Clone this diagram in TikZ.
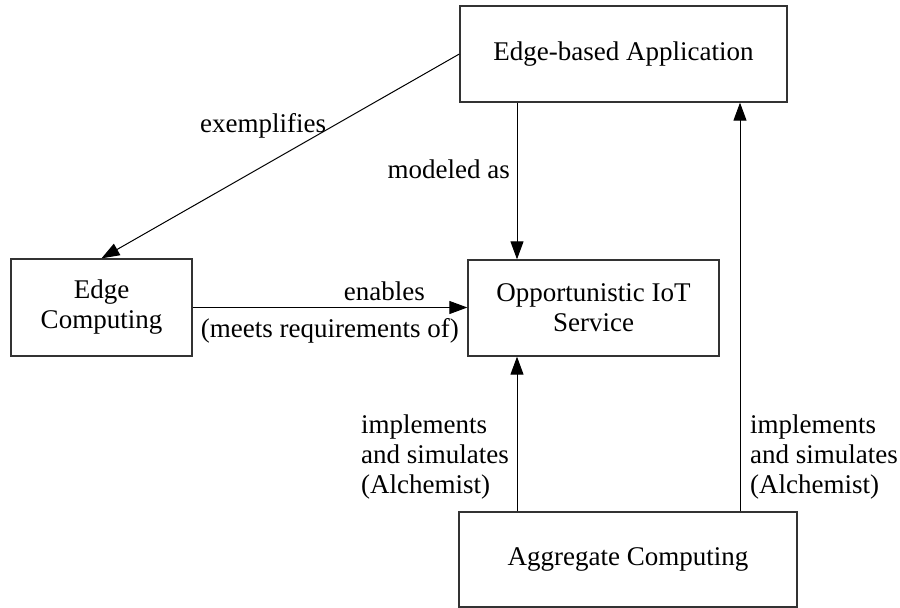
\documentclass[tikz,border=0pt]{standalone}
\usepackage{fontspec}
\setmainfont{Liberation Serif}
\usetikzlibrary{arrows.meta}
\begin{document}
\begin{tikzpicture}[x=1pt,y=-1pt,
  every node/.style={font=\fontsize{27}{30}\selectfont},
  box/.style={draw=black!80,line width=1.3pt,rectangle,inner sep=0pt,align=center},
  lbl/.style={inner sep=0pt},
  arr/.style={draw=black,line width=1pt,-{Triangle[length=18pt,width=13pt]}}]
\useasboundingbox (0,0) rectangle (900,608);
\node[box,minimum width=327pt,minimum height=96pt] (eba) at (623.5,54) {Edge-based Application};
\node[box,minimum width=181pt,minimum height=97pt] (ec) at (101.5,307.5) {Edge\\Computing};
\node[box,minimum width=251pt,minimum height=96pt] (opp) at (593.5,308) {Opportunistic IoT\\Service};
\node[box,minimum width=338pt,minimum height=95pt] (agg) at (628,559.5) {Aggregate Computing};
\coordinate (xa) at (517,0);
\coordinate (xb) at (740,0);
\draw[arr] (eba.west) -- (ec.north);
\draw[arr] (eba.south -| xa) -- (opp.north -| xa);
\draw[arr] (ec.east) -- (opp.west |- ec.east);
\draw[arr] (agg.north -| xa) -- (opp.south -| xa);
\draw[arr] (agg.north -| xb) -- (eba.south -| xb);
\node[lbl,anchor=base west] (l1) at (200,132) {exemplifies};
\node[lbl,anchor=base east] (l2) at (510,178) {modeled as};
\node[lbl,anchor=base east] (l3) at (425,300) {enables};
\node[lbl,anchor=base east] (l4) at (459,337) {(meets requirements of)};
\node[lbl,anchor=east,align=left] (l5) at (509,457) {implements\\and simulates\\(Alchemist)};
\node[lbl,anchor=west,align=left] (l6) at (750,457) {implements\\and simulates\\(Alchemist)};
\end{tikzpicture}
\end{document}
